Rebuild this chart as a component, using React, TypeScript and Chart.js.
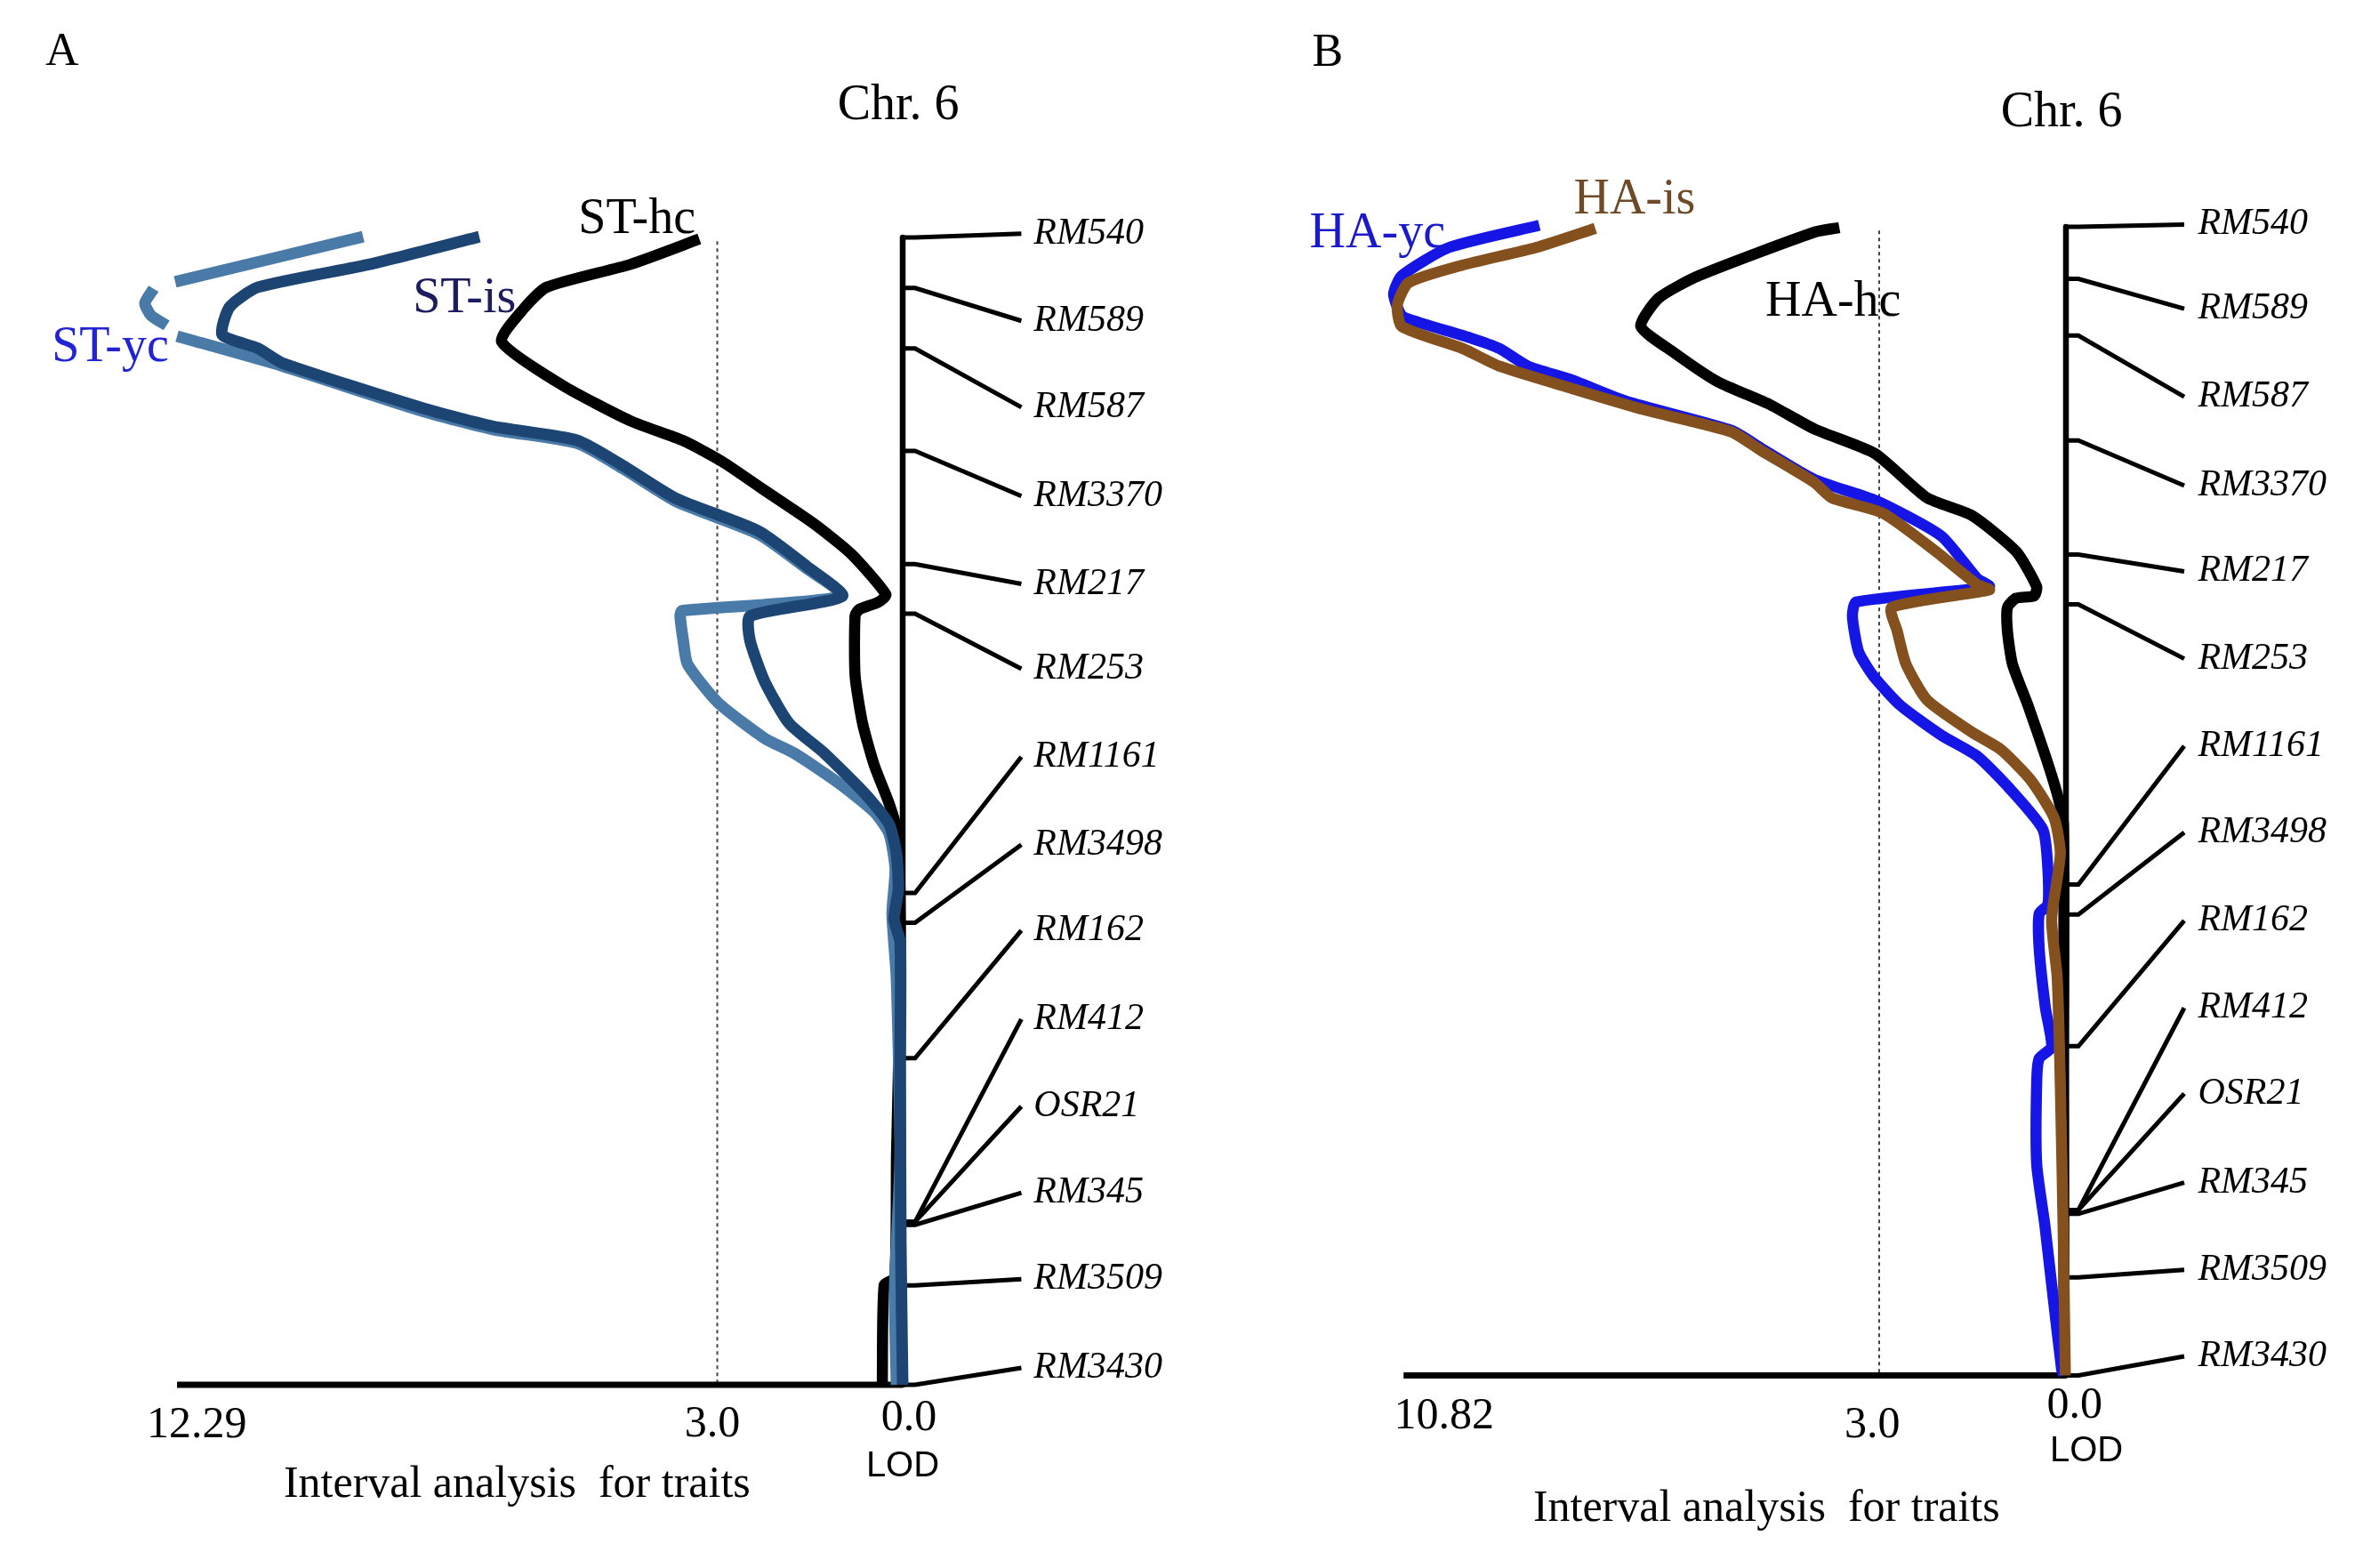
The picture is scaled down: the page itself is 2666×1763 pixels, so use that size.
import React, { useEffect, useRef } from 'react';
import { Chart, registerables } from 'chart.js';

Chart.register(...registerables);

// ---------------- DATA ----------------
const markerNames = ['RM540', 'RM589', 'RM587', 'RM3370', 'RM217', 'RM253', 'RM1161', 'RM3498', 'RM162', 'RM412', 'OSR21', 'RM345', 'RM3509', 'RM3430'];
const chrLength = 150;
const thresholdLod = 3.0;

// Panel A: marker positions on the chromosome (cM) and positions of their labels
const markerPosA = [0, 6.6, 14.5, 27.9, 42.7, 49.2, 85.7, 89.6, 107.3, 128.7, 128.7, 129.1, 137.0, 150];
const labelPosA = [-0.5, 10.9, 22.2, 33.8, 45.3, 56.4, 67.9, 79.4, 90.6, 102.2, 113.6, 124.9, 136.2, 147.8];
// Panel B
const markerPosB = [0, 6.8, 14.2, 27.9, 42.8, 49.3, 85.9, 89.8, 107.0, 128.4, 128.4, 128.9, 137.2, 150];
const labelPosB = [-0.3, 10.7, 22.2, 33.8, 45.0, 56.4, 67.8, 79.1, 90.6, 102.0, 113.2, 124.8, 136.2, 147.5];

// Panel A LOD profiles (position cM, LOD)
const stHcPos = [0.2, 3.5, 6.5, 9.2, 13.6, 19.3, 24.0, 26.6, 29.3, 32.7, 37.4, 41.4, 46.7, 47.7, 48.6, 49.4, 57.3, 63.5, 69.0, 74.0, 77.4, 83.0, 97.0, 120.0, 136.0, 137.0, 150];
const stHcLod = [3.29, 4.40, 5.76, 6.12, 6.49, 5.51, 4.40, 3.54, 2.92, 2.30, 1.44, 0.83, 0.27, 0.40, 0.70, 0.77, 0.77, 0.65, 0.46, 0.22, 0.10, 0.05, 0.04, 0.10, 0.13, 0.30, 0.33];

const stIsPos = [-0.1, 3.5, 6.5, 9.1, 12.7, 14.5, 16.4, 22.3, 24.7, 26.5, 29.8, 34.1, 38.4, 43.0, 46.9, 49.5, 52.7, 58.1, 63.5, 67.4, 72.8, 76.7, 80.6, 85.2, 89.1, 92.2, 108.5, 131.7, 150];
const stIsLod = [6.85, 8.62, 10.43, 10.89, 11.01, 10.43, 10.04, 7.77, 6.63, 5.27, 4.53, 3.67, 2.33, 1.55, 0.98, 2.47, 2.47, 2.23, 1.84, 1.27, 0.60, 0.22, 0.10, 0.07, 0.14, 0.04, 0.04, 0.03, 0];

// null = break in the drawn line
const stYcPos = [-0.1, 5.8, null, 6.7, 8.6, 10.2, 11.5, null, 12.9, 16.8, 22.7, 25.1, 26.9, 30.2, 34.5, 38.8, 43.3, 46.9, 48.8, 49.5, 52.7, 55.8, 60.8, 65.5, 67.4, 71.3, 75.1, 77.9, 82.6, 88.4, 96.9, 120.1, 137.6, 150];
const stYcLod = [8.73, 11.77, null, 12.12, 12.26, 12.16, 11.91, null, 11.74, 10.04, 7.77, 6.63, 5.27, 4.53, 3.67, 2.33, 1.55, 0.98, 3.57, 3.60, 3.55, 3.48, 2.99, 2.23, 1.76, 1.04, 0.46, 0.22, 0.12, 0.17, 0.10, 0.04, 0.13, 0.10];

// Panel B LOD profiles
const haHcPos = [0.1, 0.7, 6.4, 9.3, 13.0, 16.4, 20.2, 23.2, 26.4, 29.6, 35.4, 37.7, 42.4, 47.0, 48.2, 48.5, 49.7, 52.8, 57.1, 62.5, 69.1, 74.1, 78.0, 109.8, 150];
const haHcLod = [3.64, 4.04, 5.90, 6.54, 6.83, 6.30, 5.60, 4.76, 4.04, 3.07, 2.23, 1.51, 0.80, 0.47, 0.51, 0.80, 0.94, 0.94, 0.86, 0.61, 0.33, 0.14, 0.04, 0.04, 0.03];

const haIsPos = [0.2, 2.7, 5.0, 7.3, 10.2, 13.0, 15.9, 18.2, 21.1, 23.9, 26.8, 29.2, 33.4, 35.4, 37.4, 42.4, 46.7, 47.4, 49.7, 52.8, 57.1, 61.8, 66.0, 68.3, 72.2, 77.2, 81.9, 90.4, 98.1, 112.1, 133.0, 150];
const haIsLod = [7.56, 8.51, 9.69, 10.56, 10.74, 10.67, 9.69, 9.10, 7.94, 6.77, 5.37, 4.90, 4.04, 3.76, 2.94, 2.09, 1.43, 1.23, 2.80, 2.71, 2.57, 2.23, 1.51, 1.04, 0.57, 0.19, 0.09, 0.23, 0.14, 0.09, 0.04, 0.01];

const haYcPos = [-0.2, 2.7, 6.4, 8.8, 11.6, 12.5, 14.5, 15.9, 18.2, 20.0, 22.8, 26.6, 28.9, 33.0, 35.8, 40.4, 45.9, 47.0, 49.0, 50.9, 55.5, 58.7, 62.5, 66.4, 69.1, 73.4, 78.7, 83.9, 88.5, 89.7, 94.3, 102.0, 107.1, 108.6, 111.7, 122.4, 130.3, 138.1, 149.2, 150];
const haYcLod = [8.46, 9.91, 10.67, 10.80, 10.67, 10.39, 9.57, 9.10, 8.64, 7.94, 7.06, 5.37, 4.90, 4.04, 3.04, 2.00, 1.43, 1.23, 3.37, 3.43, 3.33, 3.09, 2.66, 2.00, 1.43, 0.90, 0.37, 0.29, 0.29, 0.43, 0.43, 0.33, 0.23, 0.43, 0.47, 0.47, 0.34, 0.23, 0.07, 0.04];

// Axis tick labels
const tickLabelsA = ['12.29', '3.0', '0.0'];
const tickLabelsB = ['10.82', '3.0', '0.0'];

// ---------------- STYLE / LAYOUT ----------------
const SERIF = '"Liberation Serif", "Times New Roman", serif';
const SANS = '"Liberation Sans", Arial, sans-serif';
const W = 1333;
const H = 1763;

type Curve = { pos: (number | null)[]; lod: (number | null)[]; color: string; width: number };

type PanelCfg = {
  left: number;
  zeroX: number; pxPerLod: number; zeroY: number; pxPerCm: number;
  lodMin: number; lodMax: number; cmMin: number; cmMax: number;
  markerPos: number[]; labelPos: number[];
  axisLeftLod: number;
  curves: Curve[];
  stub: number; connEnd: number; labelX: number;
  texts: { text: string; x: number; y: number; font: string; color?: string; align?: CanvasTextAlign }[];
};

function toSegments(pos: (number | null)[], lod: (number | null)[]) {
  const segs: { x: number; y: number }[][] = [];
  let cur: { x: number; y: number }[] = [];
  for (let i = 0; i < pos.length; i++) {
    if (pos[i] === null || lod[i] === null) {
      if (cur.length) segs.push(cur);
      cur = [];
    } else {
      cur.push({ x: lod[i] as number, y: pos[i] as number });
    }
  }
  if (cur.length) segs.push(cur);
  return segs;
}

const textPlugin = {
  id: 'panelText',
  afterDatasetsDraw(chart: any, _args: any, opts: any) {
    const { ctx } = chart;
    const xs = chart.scales.x;
    const ys = chart.scales.y;
    ctx.save();
    for (const t of opts.items || []) {
      ctx.font = t.font;
      ctx.fillStyle = t.color || '#000';
      ctx.textAlign = t.align || 'center';
      ctx.textBaseline = 'middle';
      ctx.fillText(t.text, xs.getPixelForValue(t.x), ys.getPixelForValue(t.y));
    }
    ctx.restore();
  },
};

function Panel({ cfg }: { cfg: PanelCfg }) {
  const ref = useRef<HTMLCanvasElement | null>(null);
  useEffect(() => {
    const padLeft = cfg.zeroX - cfg.lodMax * cfg.pxPerLod;
    const padRight = W - padLeft - (cfg.lodMax - cfg.lodMin) * cfg.pxPerLod;
    const padTop = cfg.zeroY + cfg.cmMin * cfg.pxPerCm;
    const padBottom = H - padTop - (cfg.cmMax - cfg.cmMin) * cfg.pxPerCm;

    const datasets: any[] = [];
    const line = (data: any[], color: string, width: number, extra: any = {}) => ({
      data, borderColor: color, borderWidth: width, showLine: true, pointRadius: 0,
      fill: false, tension: 0, borderJoinStyle: 'round', ...extra,
    });

    // curves (first on top)
    for (const c of cfg.curves) {
      for (const seg of toSegments(c.pos, c.lod)) {
        datasets.push(line(seg, c.color, c.width, { tension: 0.2 }));
      }
    }
    // chromosome
    datasets.push(line([{ x: 0, y: 0 }, { x: 0, y: chrLength }], '#000', 6.5));
    // LOD axis baseline
    datasets.push(line([{ x: cfg.axisLeftLod, y: chrLength }, { x: 0, y: chrLength }], '#000', 7));
    // threshold
    datasets.push(line([{ x: thresholdLod, y: 0.5 }, { x: thresholdLod, y: chrLength }], '#444', 2, { borderDash: [4, 4] }));
    // marker connectors
    cfg.markerPos.forEach((p, i) => {
      datasets.push(line([
        { x: 0, y: p },
        { x: cfg.stub, y: p },
        { x: cfg.connEnd, y: cfg.labelPos[i] },
      ], '#000', 5, { borderJoinStyle: 'miter' }));
    });

    const items = [
      ...cfg.texts,
      ...markerNames.map((n, i) => ({
        text: n, x: cfg.labelX, y: cfg.labelPos[i], font: `italic 42px ${SERIF}`, align: 'left' as CanvasTextAlign,
      })),
    ];

    const chart = new Chart(ref.current as HTMLCanvasElement, {
      type: 'scatter',
      data: { datasets },
      options: {
        animation: false,
        responsive: false,
        devicePixelRatio: 1,
        events: [],
        layout: { padding: { left: padLeft, right: padRight, top: padTop, bottom: padBottom } },
        scales: {
          x: { type: 'linear', reverse: true, min: cfg.lodMin, max: cfg.lodMax, display: false },
          y: { type: 'linear', reverse: true, min: cfg.cmMin, max: cfg.cmMax, display: false },
        },
        plugins: {
          legend: { display: false },
          tooltip: { enabled: false },
          title: { display: false },
          panelText: { items },
        } as any,
      },
      plugins: [textPlugin as any],
    });
    return () => chart.destroy();
  }, [cfg]);

  return (
    <canvas
      ref={ref}
      width={W}
      height={H}
      style={{ position: 'absolute', left: cfg.left, top: 0, width: W, height: H }}
    />
  );
}

const panelA: PanelCfg = {
  left: 0,
  zeroX: 1015, pxPerLod: 69.5, zeroY: 267, pxPerCm: 8.6,
  lodMin: -4, lodMax: 14, cmMin: -30, cmMax: 170,
  markerPos: markerPosA, labelPos: labelPosA,
  axisLeftLod: 11.74,
  stub: -0.2, connEnd: -1.92, labelX: -2.12,
  curves: [
    { pos: stIsPos, lod: stIsLod, color: '#1c4573', width: 13 },
    { pos: stYcPos, lod: stYcLod, color: '#4a7aa8', width: 13 },
    { pos: stHcPos, lod: stHcLod, color: '#000000', width: 12.5 },
  ],
  texts: [
    { text: 'A', x: 13.6, y: -24.1, font: `52px ${SERIF}` },
    { text: 'Chr. 6', x: 0.07, y: -17.2, font: `56px ${SERIF}` },
    { text: 'ST-hc', x: 4.3, y: -2.3, font: `56px ${SERIF}`, color: '#000' },
    { text: 'ST-is', x: 7.09, y: 8.1, font: `56px ${SERIF}`, color: '#1c1c5e' },
    { text: 'ST-yc', x: 12.82, y: 14.4, font: `56px ${SERIF}`, color: '#2323d6' },
    { text: tickLabelsA[0], x: 11.42, y: 155.3, font: `50px ${SERIF}` },
    { text: tickLabelsA[1], x: 3.08, y: 155.2, font: `50px ${SERIF}` },
    { text: tickLabelsA[2], x: -0.1, y: 154.4, font: `50px ${SERIF}` },
    { text: 'LOD', x: 0, y: 160.7, font: `40px ${SANS}` },
    { text: 'Interval analysis  for traits', x: 6.24, y: 163.1, font: `50px ${SERIF}` },
  ],
};

const panelB: PanelCfg = {
  left: 1333,
  zeroX: 990, pxPerLod: 70, zeroY: 255, pxPerCm: 8.61,
  lodMin: -4, lodMax: 14, cmMin: -29, cmMax: 170,
  markerPos: markerPosB, labelPos: labelPosB,
  axisLeftLod: 10.64,
  stub: -0.2, connEnd: -1.9, labelX: -2.12,
  curves: [
    { pos: haIsPos, lod: haIsLod, color: '#83501e', width: 12.5 },
    { pos: haYcPos, lod: haYcLod, color: '#1515e6', width: 12.5 },
    { pos: haHcPos, lod: haHcLod, color: '#000000', width: 12.5 },
  ],
  texts: [
    { text: 'B', x: 11.86, y: -22.6, font: `52px ${SERIF}` },
    { text: 'Chr. 6', x: 0.07, y: -14.8, font: `56px ${SERIF}` },
    { text: 'HA-yc', x: 11.06, y: 1.0, font: `56px ${SERIF}`, color: '#1a1acc' },
    { text: 'HA-is', x: 6.93, y: -3.4, font: `56px ${SERIF}`, color: '#6e4a26' },
    { text: 'HA-hc', x: 3.74, y: 9.9, font: `56px ${SERIF}`, color: '#000' },
    { text: tickLabelsB[0], x: 9.99, y: 155.4, font: `50px ${SERIF}` },
    { text: tickLabelsB[1], x: 3.11, y: 156.6, font: `50px ${SERIF}` },
    { text: tickLabelsB[2], x: -0.14, y: 154.0, font: `50px ${SERIF}` },
    { text: 'LOD', x: -0.33, y: 159.9, font: `40px ${SANS}` },
    { text: 'Interval analysis  for traits', x: 4.81, y: 167.5, font: `50px ${SERIF}` },
  ],
};

export default function App() {
  return (
    <div style={{ position: 'absolute', left: 0, top: 0, width: 2666, height: 1763, background: '#fff', overflow: 'hidden' }}>
      <Panel cfg={panelA} />
      <Panel cfg={panelB} />
    </div>
  );
}
